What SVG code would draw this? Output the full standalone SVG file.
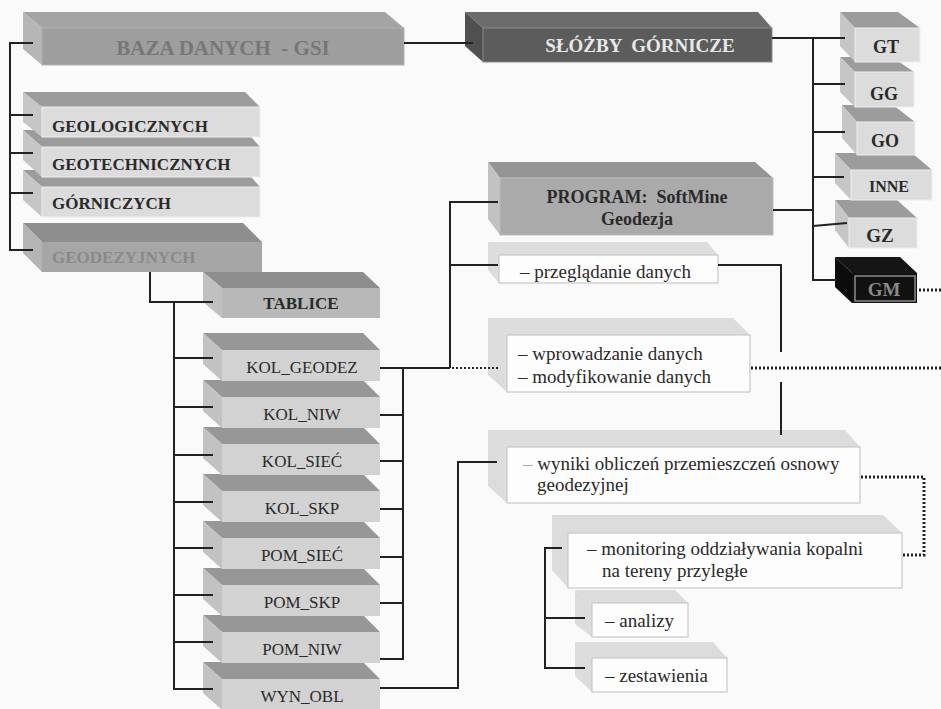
<svg xmlns="http://www.w3.org/2000/svg" width="941" height="709" viewBox="0 0 941 709">
<style>
text{font-family:"Liberation Serif","Times New Roman",serif;fill:#2a2a2a}
.b{font-weight:bold}
.c{text-anchor:middle}
.t1{font-size:17px}
.t2{font-size:19px}
.lt{fill:#9c9c9c}.ls{fill:#c6c6c6}.lf{fill:#dcdcdc;stroke:#eeeeee;stroke-width:1}
.tt{fill:#979797}.ts{fill:#c2c2c2}.tf{fill:#d2d2d2}
.wt{fill:#dcdcdc}.wf{fill:#fdfdfd;stroke:#c9c9c9;stroke-width:1.2}
.ln{fill:none;stroke:#222;stroke-width:2}
.dt{fill:none;stroke:#222;stroke-width:3;stroke-dasharray:2 2}
</style>
<defs>
<g id="tbl">
<polygon class="tt" points="203,0 363,0 380,17 222,17"/>
<polygon class="ts" points="203,0 222,17 222,48 203,31"/>
<rect class="tf" x="222" y="17" width="158" height="31"/>
</g>
</defs>
<rect width="941" height="709" fill="#fafafa"/>

<g id="baza">
<polygon fill="#a4a4a4" points="23,12 385,12 404,28 42,28"/>
<polygon fill="#b6b6b6" points="23,12 42,28 42,65 23,49"/>
<rect fill="#9e9e9e" stroke="#b0b0b0" x="42" y="28" width="362" height="37"/>
<text class="b c" x="223" y="55" font-size="21" style="fill:#777777" xml:space="preserve">BAZA DANYCH  - GSI</text>
</g>

<g id="sluzby">
<polygon fill="#6c6c6c" points="465,12 758,12 772,28 483,28"/>
<polygon fill="#505050" points="465,12 483,28 483,62 465,46"/>
<rect fill="#5c5c5c" stroke="#8a8a8a" x="483" y="28" width="289" height="34"/>
<text class="b c" x="640" y="52" font-size="19" style="fill:#e8e8e8" xml:space="preserve">SŁÓŻBY  GÓRNICZE</text>
</g>

<g id="gm">
<polygon fill="#151515" points="835,257 900,257 917,273 852,273"/>
<polygon fill="#0c0c0c" points="835,257 852,273 852,303 835,287"/>
<rect fill="#111" x="852" y="273" width="65" height="30"/>
<rect fill="none" stroke="#8a8a8a" stroke-width="1.5" x="855" y="276" width="60" height="25"/>
<text class="b c t2" x="884" y="296" style="fill:#8a8a8a">GM</text>
</g>
<g id="gz">
<polygon class="lt" points="835,200 897,200 917,218 849,218"/>
<polygon class="ls" points="835,200 849,218 849,248 835,230"/>
<rect class="lf" x="849" y="218" width="68" height="30"/>
<text class="b c t2" x="880" y="242">GZ</text>
</g>
<g id="inne">
<polygon class="lt" points="835,153 912,153 932,170 851,170"/>
<polygon class="ls" points="835,153 851,170 851,200 835,183"/>
<rect class="lf" x="851" y="170" width="81" height="30"/>
<text class="b c" x="889" y="192" font-size="16">INNE</text>
</g>
<g id="go">
<polygon class="lt" points="842,105 893,105 915,122 857,122"/>
<polygon class="ls" points="842,105 857,122 857,155 842,138"/>
<rect class="lf" x="857" y="122" width="58" height="33"/>
<text class="b c" x="885" y="147" font-size="18">GO</text>
</g>
<g id="gg">
<polygon class="lt" points="840,57 892,57 914,72 855,72"/>
<polygon class="ls" points="840,57 855,72 855,107 840,92"/>
<rect class="lf" x="855" y="72" width="59" height="35"/>
<text class="b c" x="884" y="100" font-size="18">GG</text>
</g>
<g id="gt">
<polygon class="lt" points="840,12 898,12 920,28 855,28"/>
<polygon class="ls" points="840,12 855,28 855,62 840,46"/>
<rect class="lf" x="855" y="28" width="65" height="34"/>
<text class="b c" x="886" y="53" font-size="18">GT</text>
</g>

<g id="geodezyjnych">
<polygon fill="#8e8e8e" points="23,223 243,223 262,242 42,242"/>
<polygon fill="#b4b4b4" points="23,223 42,242 42,272 23,253"/>
<rect fill="#a6a6a6" x="42" y="242" width="220" height="30"/>
<text class="b t1" x="52" y="263" style="fill:#8a8a8a">GEODEZYJNYCH</text>
</g>
<g id="gorniczych">
<polygon class="lt" points="23,170 245,170 260,187 42,187"/>
<polygon class="ls" points="23,170 42,187 42,217 23,200"/>
<rect class="lf" x="42" y="187" width="218" height="30"/>
<text class="b t1" x="52" y="209">GÓRNICZYCH</text>
</g>
<g id="geotechnicznych">
<polygon class="lt" points="23,130 245,130 260,147 42,147"/>
<polygon class="ls" points="23,130 42,147 42,177 23,160"/>
<rect class="lf" x="42" y="147" width="218" height="30"/>
<text class="b t1" x="52" y="170">GEOTECHNICZNYCH</text>
</g>
<g id="geologicznych">
<polygon class="lt" points="23,92 245,92 260,107 42,107"/>
<polygon class="ls" points="23,92 42,107 42,137 23,122"/>
<rect class="lf" x="42" y="107" width="218" height="30"/>
<text class="b t1" x="52" y="132">GEOLOGICZNYCH</text>
</g>

<g id="tablice">
<polygon fill="#8e8e8e" points="203,272 363,272 380,288 222,288"/>
<polygon fill="#c0c0c0" points="203,272 222,288 222,318 203,302"/>
<rect fill="#b8b8b8" x="222" y="288" width="158" height="30"/>
<text class="b c t1" x="301" y="309">TABLICE</text>
</g>

<g id="wyn_obl"><use href="#tbl" y="662"/><text class="c t1" x="302" y="702">WYN_OBL</text></g>
<g id="pom_niw"><use href="#tbl" y="615"/><text class="c t1" x="302" y="655">POM_NIW</text></g>
<g id="pom_skp"><use href="#tbl" y="568"/><text class="c t1" x="302" y="608">POM_SKP</text></g>
<g id="pom_siec"><use href="#tbl" y="521"/><text class="c t1" x="302" y="561">POM_SIEĆ</text></g>
<g id="kol_skp"><use href="#tbl" y="474"/><text class="c t1" x="302" y="514">KOL_SKP</text></g>
<g id="kol_siec"><use href="#tbl" y="427"/><text class="c t1" x="302" y="467">KOL_SIEĆ</text></g>
<g id="kol_niw"><use href="#tbl" y="380"/><text class="c t1" x="302" y="420">KOL_NIW</text></g>
<g id="kol_geodez"><use href="#tbl" y="333"/><text class="c t1" x="302" y="373">KOL_GEODEZ</text></g>

<g id="program">
<polygon fill="#959595" points="488,162 755,162 773,178 500,178"/>
<polygon fill="#c2c2c2" points="488,162 500,178 500,235 488,219"/>
<rect fill="#aaaaaa" stroke="#bcbcbc" x="500" y="178" width="273" height="57"/>
<text class="b c" x="637" y="203" font-size="18" xml:space="preserve">PROGRAM:  SoftMine</text>
<text class="b c" x="637" y="225" font-size="18">Geodezja</text>
</g>
<g id="przegladanie">
<polygon class="wt" points="488,242 707,242 718,255 499,255"/>
<polygon class="wt" points="488,242 499,255 499,283 488,270"/>
<rect class="wf" x="499" y="255" width="219" height="28"/>
<text class="t2" x="520" y="278">– przeglądanie danych</text>
</g>
<g id="wprowadzanie">
<polygon class="wt" points="488,318 733,318 750,335 507,335"/>
<polygon class="wt" points="488,318 507,335 507,392 488,375"/>
<rect class="wf" x="507" y="335" width="243" height="57"/>
<text class="t2" x="518" y="360">– wprowadzanie danych</text>
<text class="t2" x="518" y="383">– modyfikowanie danych</text>
</g>
<g id="wyniki">
<polygon class="wt" points="488,430 845,430 860,447 507,447"/>
<polygon class="wt" points="488,430 507,447 507,503 488,486"/>
<rect class="wf" x="507" y="447" width="353" height="56"/>
<text class="t2" x="523" y="470"><tspan style="fill:#a8a8a8">–</tspan> wyniki obliczeń przemieszczeń osnowy</text>
<text class="t2" x="537" y="491">geodezyjnej</text>
</g>
<g id="monitoring">
<polygon class="wt" points="552,515 883,515 902,533 568,533"/>
<polygon class="wt" points="552,515 568,533 568,588 552,570"/>
<rect class="wf" x="568" y="533" width="334" height="55"/>
<text class="t2" x="587" y="555">– monitoring oddziaływania kopalni</text>
<text class="t2" x="602" y="577">na tereny przyległe</text>
</g>
<g id="analizy">
<polygon class="wt" points="575,590 675,590 688,603 592,603"/>
<polygon class="wt" points="575,590 592,603 592,637 575,624"/>
<rect class="wf" x="592" y="603" width="96" height="34"/>
<text class="t2" x="605" y="627">– analizy</text>
</g>
<g id="zestawienia">
<polygon class="wt" points="575,642 713,642 727,658 592,658"/>
<polygon class="wt" points="575,642 592,658 592,692 575,676"/>
<rect class="wf" x="592" y="658" width="135" height="34"/>
<text class="t2" x="605" y="682">– zestawienia</text>
</g>

<g id="connectors">
<path class="ln" d="M33,43 H10 V250 H33 M10,115 H33 M10,153 H33 M10,193 H33"/>
<path class="ln" d="M404,43 H473"/>
<path class="ln" d="M772,38 H845 M813,38 V280 H837 M813,84 H845 M813,132 H845 M813,177 H844 M813,226 L847,223 M773,210 H813"/>
<path class="ln" d="M150,272 V302 H213"/>
<path class="ln" d="M174,302 V689 H213 M174,358 H213 M174,407 H213 M174,455 H213 M174,502 H213 M174,548 H213 M174,595 H213 M174,642 H213"/>
<path class="ln" d="M380,368 H450 M403,368 V659 H380 M380,415 H403 M380,461 H403 M380,509 H403 M380,557 H403 M380,603 H403"/>
<path class="ln" d="M450,368 V202 H498 M450,265 H498"/>
<path class="ln" d="M380,688 H458 V462 H497"/>
<path class="ln" d="M718,265 H781 V352 M781,382 V435"/>
<path class="ln" d="M562,548 H545 V668 H585 M545,618 H585"/>
<path class="dt" d="M452,368 H500" style="stroke-width:2"/>
<path class="dt" d="M751,368 H941"/>
<path class="dt" d="M861,477 H924 V555 H903"/>
<path class="dt" d="M919,290 H941"/>
</g>
</svg>
